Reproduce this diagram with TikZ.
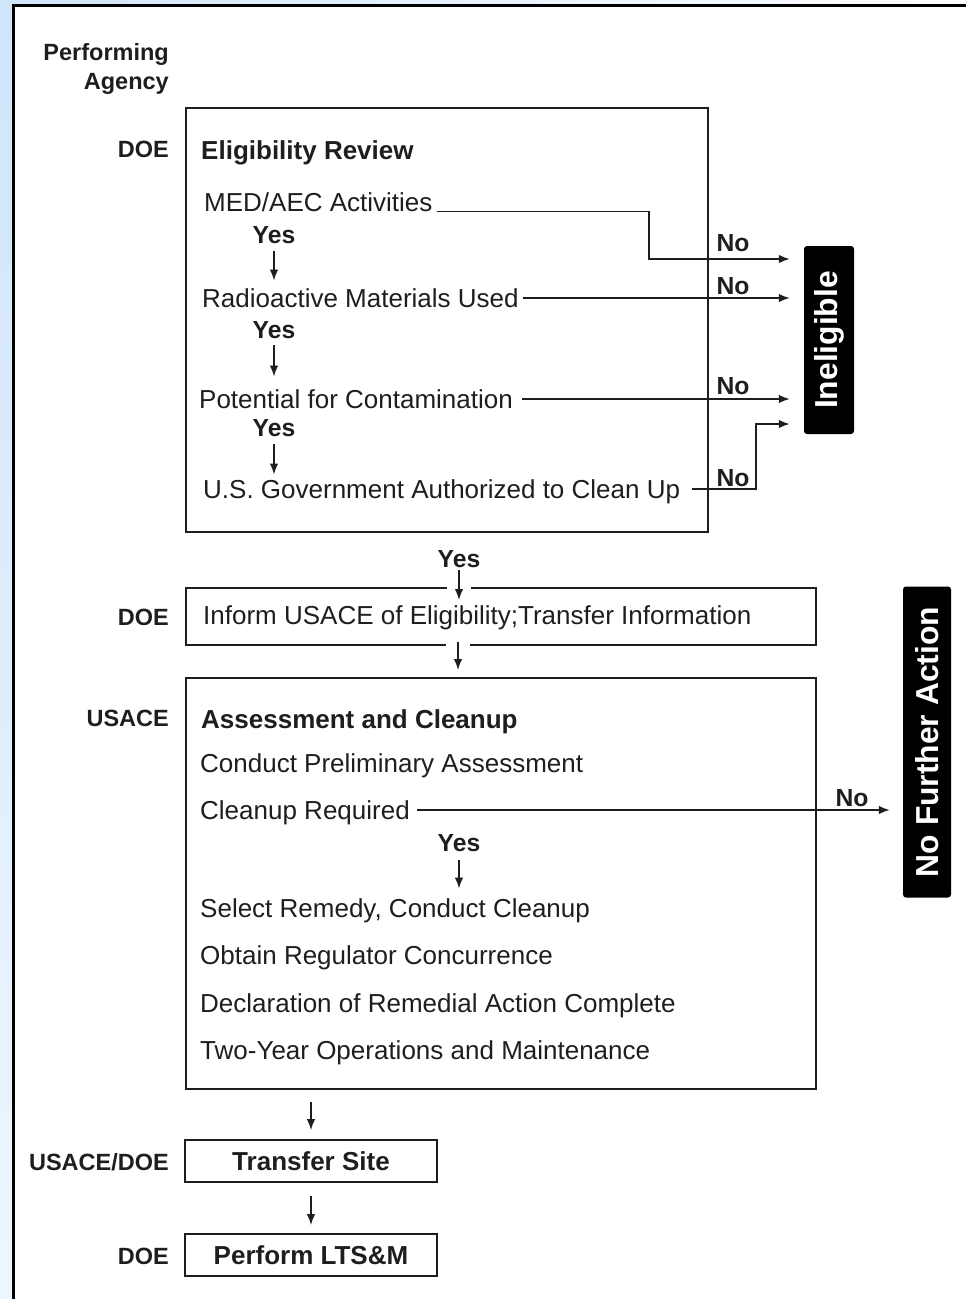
\documentclass[tikz,border=0pt]{standalone}
\usepackage{fontspec}
\setmainfont{Liberation Sans}
\usetikzlibrary{arrows.meta}

\newcommand\bodysize{\fontsize{26}{30}\selectfont}
\newcommand\tagsize{\fontsize{24.7}{28}\selectfont}
\newcommand\agencysize{\fontsize{23.5}{28}\selectfont}
\newcommand\flagsize{\fontsize{31.8}{36}\selectfont}

\definecolor{pageblue}{HTML}{CFE5FA}
\definecolor{paleblue}{HTML}{EEF6FE}
\definecolor{ink}{HTML}{1E1E1E}

\tikzset{
  item/.style={font=\bodysize, text=ink, anchor=west, inner sep=0pt, text height=18.5pt, text depth=0pt},
  head/.style={item, font=\bodysize\bfseries},
  tag/.style={font=\tagsize\bfseries, text=ink, inner sep=0pt, text height=17.7pt, text depth=0pt},
  agency/.style={font=\agencysize\bfseries, text=ink, anchor=east, inner sep=0pt, text height=17pt, text depth=0pt},
  box/.style={draw=ink, line width=1.8pt},
  flag/.style={fill=black, text=white, rounded corners=3pt, font=\flagsize\bfseries, rotate=90, inner sep=0pt},
  arr/.style={draw=ink, line width=1.6pt, -{Latex[length=11pt,width=8.5pt]}},
  gap/.style={preaction={draw, white, line width=24pt, -}},
}

\begin{document}
\begin{tikzpicture}[x=1pt, y=-1pt]
\useasboundingbox (0,0) rectangle (966,1299);

% page edge
\shade[top color=pageblue, bottom color=paleblue] (0,0) rectangle (12,1299);
\shade[left color=pageblue, right color=white] (0,0) rectangle (966,4);
\draw[line width=3pt] (13.5,1299) -- (13.5,5.5) -- (966,5.5);

% performing agency column
\node[agency] (perf) at (169,52) {Performing};
\node[agency] (agency) at (169,81) {Agency};
\node[agency] (doe1) at (169,149) {DOE};
\node[agency] (doe2) at (169,617) {DOE};
\node[agency] (usace) at (169,718) {USACE};
\node[agency] (both) at (169,1162) {USACE/DOE};
\node[agency] (doe3) at (169,1256) {DOE};

% outcome flags
\node[flag, minimum width=188pt, minimum height=50pt] (inel) at (829,340) {Ineligible};
\node[flag, minimum width=311pt, minimum height=48pt] (nfa) at (927,742) {No Further Action};
\coordinate (inelIn) at ([xshift=-14pt]inel.north);
\coordinate (nfaIn) at ([xshift=-13pt]nfa.north);

% eligibility review
\node[box, anchor=north west, minimum width=522pt, minimum height=424pt] (elig) at (185,107) {};
\node[head] (review) at (201,150) {Eligibility Review};
\node[item] (med) at (204,202) {MED/AEC Activities};
\node[tag] (y1) at (274,235) {Yes};
\node[item] (rad) at (202,298) {Radioactive Materials Used};
\node[tag] (y2) at (274,330) {Yes};
\node[item] (pot) at (199,399) {Potential for Contamination};
\node[tag] (y3) at (274,428) {Yes};
\node[item] (gov) at (203,489) {U.S. Government Authorized to Clean Up};

\draw[arr, shorten <=7pt, shorten >=8pt] (y1.south) -- (y1.south |- rad.north);
\draw[arr, shorten <=6pt, shorten >=13pt] (y2.south) -- (y2.south |- pot.north);
\draw[arr, shorten <=7pt, shorten >=5pt] (y3.south) -- (y3.south |- gov.north);

% no branches
\draw[arr] ([xshift=4pt]med.south east) -| (649,259) -- (inelIn |- 649,259);
\draw[arr] ([xshift=4pt]rad.east) -- (rad.east -| inelIn);
\draw[arr] ([xshift=9pt]pot.east) -- (pot.east -| inelIn);
\draw[arr] ([xshift=12pt]gov.east) -| (756,424) -- (inelIn |- 756,424);
\node[tag] (no1) at (733,243) {No};
\node[tag] (no2) at (733,286) {No};
\node[tag] (no3) at (733,386) {No};
\node[tag] (no4) at (733,478) {No};

% inform USACE
\node[tag] (y4) at (459,559) {Yes};
\node[box, anchor=north west, minimum width=630pt, minimum height=57pt] (inform) at (185,587) {};
\node[item] (informtext) at (203,615) {Inform USACE of Eligibility;Transfer Information};
\draw[arr, gap, shorten <=2pt, shorten >=-13pt] (y4.south) -- (y4.south |- inform.north);

% assessment and cleanup
\node[box, anchor=north west, minimum width=630pt, minimum height=411pt] (assess) at (185,677) {};
\draw[arr, gap, shorten <=-4pt, shorten >=7pt] (458,0 |- inform.south) -- (458,0 |- assess.north);
\node[head] (ac) at (201,719) {Assessment and Cleanup};
\node[item] (pa) at (200,763) {Conduct Preliminary Assessment};
\node[item] (req) at (200,810) {Cleanup Required};
\node[tag] (y5) at (459,843) {Yes};
\foreach \y/\t [count=\i] in {908/{Select Remedy, Conduct Cleanup}, 955/Obtain Regulator Concurrence,
    1003/Declaration of Remedial Action Complete, 1050/Two-Year Operations and Maintenance}
  \node[item] (step\i) at (200,\y) {\t};
\draw[arr, shorten <=8pt, shorten >=10pt] (y5.south) -- (y5.south |- step1.north);
\draw[arr] ([xshift=7pt]req.east) -- (req.east -| nfaIn);
\node[tag] (no5) at (852,798) {No};

% handover
\node[box, font=\bodysize\bfseries, text=ink, minimum width=252pt, minimum height=42pt, text height=18.5pt, text depth=0pt] (transfer) at (311,1161) {Transfer Site};
\node[box, font=\bodysize\bfseries, text=ink, minimum width=252pt, minimum height=42pt, text height=18.5pt, text depth=0pt] (lts) at (311,1255) {Perform LTS\&M};
\draw[arr, shorten <=12pt, shorten >=9pt] (transfer.north |- assess.south) -- (transfer.north);
\draw[arr, shorten <=13pt, shorten >=8pt] (transfer.south) -- (lts.north);
\end{tikzpicture}
\end{document}
